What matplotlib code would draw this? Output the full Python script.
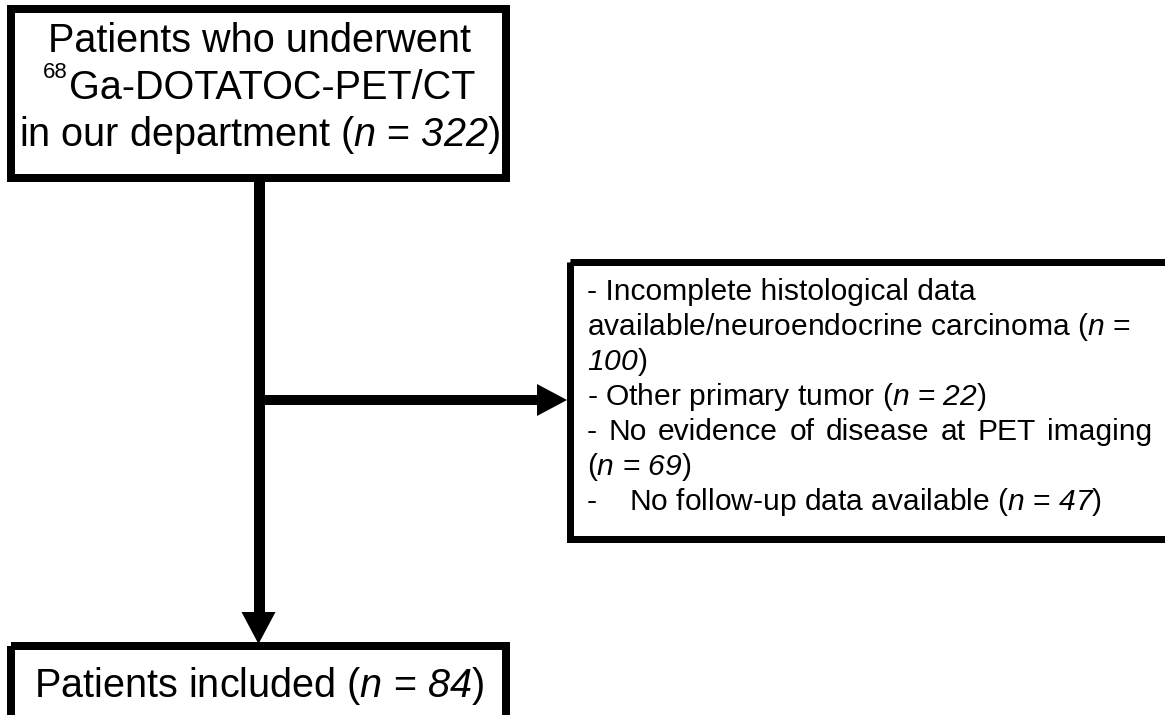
import matplotlib
matplotlib.use("Agg")
import matplotlib.pyplot as plt
from matplotlib.patches import Rectangle, Polygon

# ---- data ----
n_total = 322
n_included = 84
exclusion_reasons = ["Incomplete histological data available/neuroendocrine carcinoma",
                     "Other primary tumor",
                     "No evidence of disease at PET imaging",
                     "No follow-up data available"]
exclusion_counts = [100, 22, 69, 47]

plt.rcParams['font.family'] = ['Liberation Sans', 'DejaVu Sans']
plt.rcParams['mathtext.fontset'] = 'custom'
plt.rcParams['mathtext.rm'] = 'Liberation Sans'
plt.rcParams['mathtext.it'] = 'Liberation Sans:italic'
plt.rcParams['mathtext.sf'] = 'Liberation Sans:italic'

W, H = 1165, 715
DPI = 100
fig = plt.figure(figsize=(W / DPI, H / DPI), dpi=DPI)
ax = fig.add_axes([0, 0, 1, 1])
ax.set_xlim(0, W)
ax.set_ylim(H, 0)
ax.axis('off')

def px(p):
    return p * 72.0 / DPI

def box(x0, y0, x1, y1, lw_px):
    h = lw_px / 2.0
    ax.add_patch(Rectangle((x0 + h, y0 + h), (x1 - x0) - lw_px, (y1 - y0) - lw_px,
                           fill=False, edgecolor='black', linewidth=px(lw_px),
                           joinstyle='miter', clip_on=False))

def it(s):
    return r"$\mathsf{" + str(s) + "}$"

# boxes
box(7, 5, 510, 182, 8)
box(566, 258, 1185, 542, 7)
box(7, 642, 510, 740, 8)

# vertical stem with arrowhead
cx = 258.5
ax.plot([cx, cx], [178, 614], color='black', linewidth=px(11), solid_capstyle='butt')
ax.add_patch(Polygon([[cx - 17, 612], [cx + 17, 612], [cx, 644]], closed=True,
                     facecolor='black', edgecolor='none'))
# horizontal branch with arrowhead
yb = 400
ax.plot([cx, 539], [yb, yb], color='black', linewidth=px(10), solid_capstyle='butt')
ax.add_patch(Polygon([[537, yb - 16], [537, yb + 16], [567, yb]], closed=True,
                     facecolor='black', edgecolor='none'))

fig.canvas.draw()
renderer = fig.canvas.get_renderer()

# top box text
fs_big = 28.5
tx = 259
ax.text(tx, 52, "Patients who underwent", fontsize=fs_big, ha='center', va='baseline')
sup = ax.text(0, 99 - 21, "68", fontsize=16, ha='left', va='baseline')
main = ax.text(0, 99, "Ga-DOTATOC-PET/CT", fontsize=fs_big, ha='left', va='baseline')
w_sup = sup.get_window_extent(renderer).width + 1
w_main = main.get_window_extent(renderer).width
start = tx - (w_sup + w_main) / 2
sup.set_x(start)
main.set_x(start + w_sup)
ax.text(tx, 146, "in our department (" + it("n") + " = " + it(n_total) + ")",
        fontsize=fs_big, ha='center', va='baseline')

# bottom box text
ax.text(tx, 697, "Patients included (" + it("n") + " = " + it(n_included) + ")",
        fontsize=fs_big, ha='center', va='baseline')

# right box text
fs = 21.6
x0 = 587
base = 300
step = 35
r1 = exclusion_reasons[0].split(" available")
lines = [
    "- " + r1[0],
    "available" + r1[1] + " (" + it("n") + " =",
    it(exclusion_counts[0]) + ")",
    "- " + exclusion_reasons[1] + " (" + it("n") + " = " + it(exclusion_counts[1]) + ")",
    None,
    "(" + it("n") + " = " + it(exclusion_counts[2]) + ")",
    None,
]
for i, s in enumerate(lines):
    if s is not None:
        ax.text(x0, base + step * i, s, fontsize=fs, ha='left', va='baseline')

# justified line 5
words = ("- " + exclusion_reasons[2]).split(" ")
x_right = 1152
texts = [ax.text(0, base + step * 4, w, fontsize=fs, ha='left', va='baseline') for w in words]
widths = [t.get_window_extent(renderer).width for t in texts]
gap = (x_right - x0 - sum(widths)) / (len(words) - 1)
xx = x0
for t, w in zip(texts, widths):
    t.set_x(xx)
    xx += w + gap

# last line with tab
ax.text(x0, base + step * 6, "-", fontsize=fs, ha='left', va='baseline')
ax.text(629, base + step * 6, exclusion_reasons[3] + " (" + it("n") + " = " + it(exclusion_counts[3]) + ")",
        fontsize=fs, ha='left', va='baseline')

fig.savefig("out.png", dpi=DPI, facecolor='white')
